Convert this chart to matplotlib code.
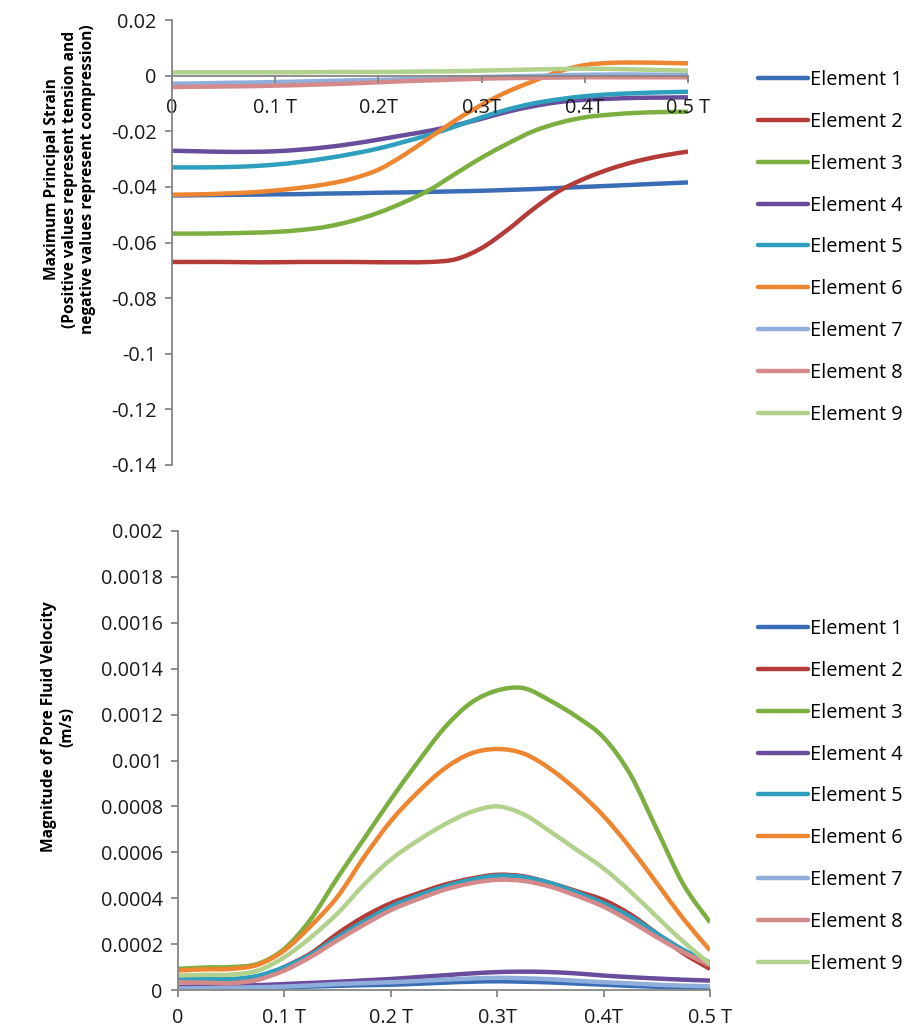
import matplotlib
matplotlib.use("Agg")
import matplotlib.pyplot as plt
import numpy as np
from matplotlib.path import Path
from matplotlib.patches import PathPatch
from matplotlib.lines import Line2D

plt.rcParams['font.family'] = ['Open Sans', 'DejaVu Sans']

# Time axis (fraction of period T)
t = [0.0, 0.025, 0.05, 0.075, 0.1, 0.125, 0.15, 0.175, 0.2, 0.225, 0.25,
     0.275, 0.3, 0.325, 0.35, 0.375, 0.4, 0.425, 0.45, 0.475, 0.5]

labels = ["Element 1", "Element 2", "Element 3", "Element 4", "Element 5",
          "Element 6", "Element 7", "Element 8", "Element 9"]
colors = ['#3A6DB5', '#B43B37', '#7CAF3F', '#6A4C9C', '#2E9FBC',
          '#EE8530', '#8FAEDC', '#D48A8A', '#B2D18C']

# Maximum principal strain
strain_e1 = [-0.0431, -0.0430, -0.0429, -0.0428, -0.0427, -0.0426, -0.0424, -0.0423, -0.0421, -0.0420, -0.0418,
             -0.0416, -0.0414, -0.0411, -0.0408, -0.0404, -0.0400, -0.0396, -0.0392, -0.0388, -0.0384]
strain_e2 = [-0.0670, -0.0670, -0.0670, -0.0671, -0.0671, -0.0670, -0.0670, -0.0670, -0.0671, -0.0671, -0.0670,
             -0.0660, -0.0620, -0.0555, -0.0480, -0.0415, -0.0370, -0.0335, -0.0308, -0.0288, -0.0273]
strain_e3 = [-0.0568, -0.0568, -0.0567, -0.0565, -0.0562, -0.0555, -0.0543, -0.0522, -0.0493, -0.0455, -0.0410,
             -0.0352, -0.0295, -0.0245, -0.0200, -0.0170, -0.0150, -0.0140, -0.0134, -0.0131, -0.0130]
strain_e4 = [-0.0270, -0.0272, -0.0274, -0.0274, -0.0272, -0.0266, -0.0257, -0.0245, -0.0230, -0.0214, -0.0198,
             -0.0178, -0.0155, -0.0130, -0.0110, -0.0095, -0.0087, -0.0083, -0.0080, -0.0079, -0.0078]
strain_e5 = [-0.0330, -0.0330, -0.0329, -0.0326, -0.0320, -0.0310, -0.0297, -0.0281, -0.0262, -0.0238, -0.0212,
             -0.0182, -0.0150, -0.0122, -0.0100, -0.0085, -0.0074, -0.0067, -0.0063, -0.0060, -0.0058]
strain_e6 = [-0.0428, -0.0427, -0.0424, -0.0420, -0.0413, -0.0403, -0.0390, -0.0370, -0.0338, -0.0285, -0.0222,
             -0.0160, -0.0105, -0.0058, -0.0020, 0.0015, 0.0038, 0.0046, 0.0047, 0.0046, 0.0044]
strain_e7 = [-0.0029, -0.0028, -0.0026, -0.0025, -0.0023, -0.0021, -0.0019, -0.0017, -0.0015, -0.0013, -0.0011,
             -0.0008, -0.0005, -0.0003, -0.0001, 0.0001, 0.0003, 0.0004, 0.0004, 0.0003, 0.0003]
strain_e8 = [-0.0041, -0.0040, -0.0039, -0.0038, -0.0036, -0.0034, -0.0031, -0.0028, -0.0024, -0.0020, -0.0017,
             -0.0014, -0.0011, -0.0009, -0.0008, -0.0007, -0.0006, -0.0006, -0.0006, -0.0006, -0.0006]
strain_e9 = [0.0012, 0.0012, 0.0012, 0.0012, 0.0012, 0.0012, 0.0013, 0.0013, 0.0013, 0.0014, 0.0015,
             0.0016, 0.0018, 0.0020, 0.0022, 0.0024, 0.0025, 0.0024, 0.0022, 0.0020, 0.0018]

# Magnitude of pore fluid velocity (m/s)
vel_e1 = [4e-6, 5e-6, 6e-6, 8e-6, 1.2e-5, 1.5e-5, 1.8e-5, 2.1e-5, 2.3e-5, 2.7e-5, 3.2e-5,
          3.6e-5, 3.8e-5, 3.6e-5, 3.3e-5, 2.8e-5, 2.3e-5, 1.8e-5, 1.4e-5, 1.1e-5, 9e-6]
vel_e2 = [3.4e-5, 3.3e-5, 3.3e-5, 4.5e-5, 1.0e-4, 1.6e-4, 2.46e-4, 3.2e-4, 3.78e-4, 4.2e-4, 4.58e-4,
          4.85e-4, 5.02e-4, 4.95e-4, 4.66e-4, 4.3e-4, 3.92e-4, 3.3e-4, 2.46e-4, 1.6e-4, 9.2e-5]
vel_e3 = [9.2e-5, 9.8e-5, 1.0e-4, 1.14e-4, 1.8e-4, 3.1e-4, 4.9e-4, 6.6e-4, 8.3e-4, 9.9e-4, 1.14e-3,
          1.25e-3, 1.305e-3, 1.315e-3, 1.26e-3, 1.19e-3, 1.10e-3, 9.4e-4, 7.0e-4, 4.6e-4, 2.95e-4]
vel_e4 = [1.2e-5, 1.4e-5, 1.7e-5, 2.1e-5, 2.6e-5, 3.1e-5, 3.6e-5, 4.2e-5, 4.8e-5, 5.6e-5, 6.4e-5,
          7.2e-5, 7.8e-5, 8.0e-5, 7.8e-5, 7.2e-5, 6.3e-5, 5.6e-5, 5.0e-5, 4.5e-5, 4.1e-5]
vel_e5 = [4.8e-5, 4.8e-5, 4.8e-5, 6.2e-5, 1.0e-4, 1.55e-4, 2.3e-4, 3.0e-4, 3.63e-4, 4.1e-4, 4.5e-4,
          4.8e-4, 4.98e-4, 4.92e-4, 4.66e-4, 4.25e-4, 3.78e-4, 3.2e-4, 2.46e-4, 1.75e-4, 1.2e-4]
vel_e6 = [8.5e-5, 9.0e-5, 9.2e-5, 1.1e-4, 1.73e-4, 2.8e-4, 4.07e-4, 5.8e-4, 7.36e-4, 8.6e-4, 9.63e-4,
          1.03e-3, 1.05e-3, 1.03e-3, 9.63e-4, 8.7e-4, 7.58e-4, 6.2e-4, 4.66e-4, 3.1e-4, 1.73e-4]
vel_e7 = [7e-6, 8e-6, 1.0e-5, 1.2e-5, 1.5e-5, 2.0e-5, 2.6e-5, 3.0e-5, 3.4e-5, 3.9e-5, 4.5e-5,
          5.0e-5, 5.3e-5, 5.1e-5, 4.7e-5, 4.0e-5, 3.4e-5, 2.9e-5, 2.3e-5, 1.9e-5, 1.6e-5]
vel_e8 = [3.4e-5, 3.2e-5, 3.0e-5, 4.5e-5, 8.5e-5, 1.45e-4, 2.17e-4, 2.85e-4, 3.48e-4, 3.95e-4, 4.36e-4,
          4.65e-4, 4.8e-4, 4.75e-4, 4.5e-4, 4.1e-4, 3.63e-4, 3.0e-4, 2.3e-4, 1.65e-4, 1.07e-4]
vel_e9 = [6.3e-5, 6.6e-5, 6.7e-5, 8.5e-5, 1.43e-4, 2.3e-4, 3.34e-4, 4.6e-4, 5.68e-4, 6.5e-4, 7.2e-4,
          7.75e-4, 8.0e-4, 7.65e-4, 6.9e-4, 6.1e-4, 5.3e-4, 4.3e-4, 3.19e-4, 2.1e-4, 1.14e-4]

strain_series = [strain_e1, strain_e2, strain_e3, strain_e4, strain_e5,
                 strain_e6, strain_e7, strain_e8, strain_e9]
vel_series = [vel_e1, vel_e2, vel_e3, vel_e4, vel_e5, vel_e6, vel_e7, vel_e8, vel_e9]

strain_ticks = [0.02, 0, -0.02, -0.04, -0.06, -0.08, -0.1, -0.12, -0.14]
strain_ticklabels = ["0.02", "0", "-0.02", "-0.04", "-0.06", "-0.08", "-0.1", "-0.12", "-0.14"]
vel_ticks = [0, 0.0002, 0.0004, 0.0006, 0.0008, 0.001, 0.0012, 0.0014, 0.0016, 0.0018, 0.002]
vel_ticklabels = ["0", "0.0002", "0.0004", "0.0006", "0.0008", "0.001",
                  "0.0012", "0.0014", "0.0016", "0.0018", "0.002"]
x_ticks = [0, 0.1, 0.2, 0.3, 0.4, 0.5]
strain_xlabels = ["0", "0.1 T", "0.2T", "0.3T", "0.4T", "0.5 T"]
vel_xlabels = ["0", "0.1 T", "0.2 T", "0.3T", "0.4T", "0.5 T"]

W, H = 907, 1032
fig = plt.figure(figsize=(W / 100, H / 100), dpi=100)

AXIS_GREY = '#868686'
FS = 14.3
LABEL_FS = 11.2
LW = 3.2


def px_axes(x0, x1, ytop, ybot):
    return fig.add_axes([x0 / W, 1 - ybot / H, (x1 - x0) / W, (ybot - ytop) / H])


def smoothed_line(ax, x, y, color):
    """Spreadsheet-style smoothed line: cubic Bezier segments through every point."""
    pts = np.column_stack([x, y]).astype(float)
    n = len(pts)
    verts = [pts[0]]
    codes = [Path.MOVETO]
    for i in range(n - 1):
        p0 = pts[i - 1] if i > 0 else pts[i]
        p1 = pts[i]
        p2 = pts[i + 1]
        p3 = pts[i + 2] if i + 2 < n else pts[i + 1]
        verts += [p1 + (p2 - p0) / 6.0, p2 - (p3 - p1) / 6.0, p2]
        codes += [Path.CURVE4] * 3
    patch = PathPatch(Path(verts, codes), fill=False, edgecolor=color, lw=LW,
                      capstyle='butt', joinstyle='round')
    ax.add_patch(patch)
    return Line2D([], [], color=color, lw=LW, solid_capstyle='round')


def style_axes(ax):
    for s in ('top', 'right'):
        ax.spines[s].set_visible(False)
    for s in ('left', 'bottom'):
        ax.spines[s].set_color(AXIS_GREY)
        ax.spines[s].set_linewidth(1.3)
    ax.tick_params(axis='both', direction='out', length=5, width=1.3,
                   color=AXIS_GREY, labelsize=FS, labelcolor='#1a1a1a')
    ax.tick_params(axis='y', pad=6)
    ax.tick_params(axis='x', pad=8)


def add_legend(ax, handles, x_px, y_first_px):
    ax.legend(handles, labels, loc='upper left',
              bbox_to_anchor=(x_px / W, 1 - y_first_px / H),
              bbox_transform=fig.transFigure, frameon=False,
              fontsize=FS, handlelength=2.52, handletextpad=0.1,
              labelspacing=1.10, borderpad=0, borderaxespad=0)


# --- Upper panel: maximum principal strain ---
ax1 = px_axes(172, 688, 20, 465)
handles1 = [smoothed_line(ax1, t, vals, c) for vals, c in zip(strain_series, colors)]
ax1.set_xlim(0, 0.5)
ax1.set_ylim(-0.14, 0.02)
ax1.spines['bottom'].set_position(('data', 0))
style_axes(ax1)
ax1.set_xticks(x_ticks)
ax1.set_xticklabels(strain_xlabels)
ax1.set_yticks(strain_ticks)
ax1.set_yticklabels(strain_ticklabels)
ax1.tick_params(axis='x', pad=11)
add_legend(ax1, handles1, 758, 70)

fig.text(70 / W, 1 - 179 / H,
         "Maximum Principal Strain\n(Positive values represent tension and\nnegative values represent compression)",
         rotation=90, ha='center', va='center', fontsize=LABEL_FS, fontweight='bold',
         linespacing=1.18, multialignment='center')

# --- Lower panel: pore fluid velocity ---
ax2 = px_axes(178, 710, 531, 990)
handles2 = [smoothed_line(ax2, t, vals, c) for vals, c in zip(vel_series, colors)]
ax2.set_xlim(0, 0.5)
ax2.set_ylim(0, 0.002)
style_axes(ax2)
ax2.set_xticks(x_ticks)
ax2.set_xticklabels(vel_xlabels)
ax2.set_yticks(vel_ticks)
ax2.set_yticklabels(vel_ticklabels)
add_legend(ax2, handles2, 758, 619)

fig.text(58 / W, 1 - 727 / H,
         "Magnitude of Pore Fluid Velocity\n(m/s)",
         rotation=90, ha='center', va='center', fontsize=LABEL_FS, fontweight='bold',
         linespacing=1.18, multialignment='center')

fig.savefig("out.png", dpi=100, facecolor='white')
